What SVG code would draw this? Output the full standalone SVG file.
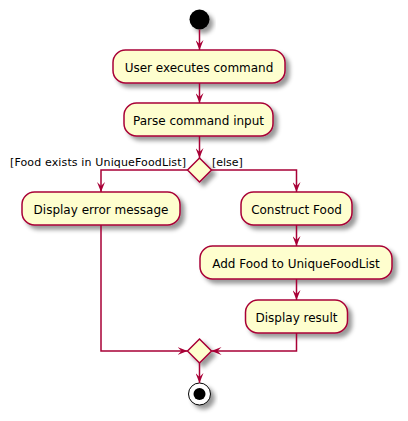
<svg xmlns="http://www.w3.org/2000/svg" width="408" height="421" viewBox="0 0 408 421">
<defs>
<filter id="sh" x="-20%" y="-20%" width="150%" height="160%">
<feGaussianBlur in="SourceAlpha" stdDeviation="2"/>
<feColorMatrix type="matrix" values="0 0 0 0 0  0 0 0 0 0  0 0 0 0 0  0 0 0 0.4 0"/>
<feOffset dx="4" dy="4" result="b"/>
<feMerge><feMergeNode in="b"/><feMergeNode in="SourceGraphic"/></feMerge>
</filter>
<marker id="ar" viewBox="0 0 10 8" markerUnits="userSpaceOnUse" markerWidth="10" markerHeight="8" refX="10" refY="4" orient="auto">
<path d="M0,0 L10,4 L0,8 L4,4 Z" fill="#A80036"/>
</marker>
</defs>
<style>
.box{fill:#FEFECE;stroke:#A80036;stroke-width:1.5;filter:url(#sh)}
.t{font-family:"DejaVu Sans",sans-serif;font-size:12px;fill:#000;text-anchor:middle}
.g{font-family:"DejaVu Sans",sans-serif;font-size:11px;fill:#000}
.c{fill:none;stroke:#A80036;stroke-width:1.5;marker-end:url(#ar)}
</style>
<rect width="408" height="421" fill="#fff"/>
<g id="start"><circle cx="199.5" cy="19.5" r="10" fill="#000" filter="url(#sh)"/></g>
<g id="n1"><rect class="box" x="113" y="50" width="172" height="33" rx="12.5"/><text class="t" x="199" y="71.5">User executes command</text></g>
<g id="n2"><rect class="box" x="124" y="103" width="149" height="33" rx="12.5"/><text class="t" x="198.5" y="124.5">Parse command input</text></g>
<g id="d1"><polygon class="box" points="199.5,158 211.5,170 199.5,182 187.5,170"/></g>
<g id="n3"><rect class="box" x="22" y="192" width="158" height="33" rx="12.5"/><text class="t" x="101" y="213.5">Display error message</text></g>
<g id="n4"><rect class="box" x="241" y="192" width="111" height="33" rx="12.5"/><text class="t" x="296.5" y="213.5">Construct Food</text></g>
<g id="n5"><rect class="box" x="200" y="246" width="192" height="33" rx="12.5"/><text class="t" x="296" y="267.5">Add Food to UniqueFoodList</text></g>
<g id="n6"><rect class="box" x="245.5" y="300" width="102" height="33" rx="12.5"/><text class="t" x="296.5" y="321.5">Display result</text></g>
<g id="d2"><polygon class="box" points="199.5,339 211.5,351 199.5,363 187.5,351"/></g>
<g id="end"><circle cx="199.5" cy="394" r="11" fill="#fff" stroke="#000" stroke-width="1" filter="url(#sh)"/><circle cx="199.5" cy="394" r="6" fill="#000"/></g>
<g id="connectors">
<path class="c" d="M199.5,29.5 V50"/>
<path class="c" d="M199.5,83 V103"/>
<path class="c" d="M199.5,136 V158"/>
<path class="c" d="M187.5,170 H101 V192"/>
<path class="c" d="M211.5,170 H296.5 V192"/>
<path class="c" d="M296.5,225 V246"/>
<path class="c" d="M296.5,279 V300"/>
<path class="c" d="M101,225 V351 H187.5"/>
<path class="c" d="M296.5,333 V351 H211.5"/>
<path class="c" d="M199.5,363 V383"/>
<text class="g" x="10" y="166" textLength="176" lengthAdjust="spacing">[Food exists in UniqueFoodList]</text>
<text class="g" x="212" y="166">[else]</text>
</g>
</svg>
